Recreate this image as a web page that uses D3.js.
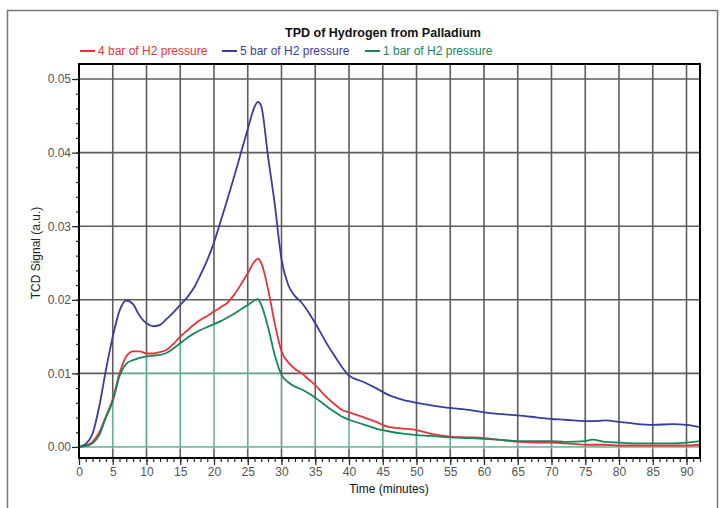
<!DOCTYPE html>
<html>
<head>
<meta charset="utf-8">
<script src="https://cdn.jsdelivr.net/npm/d3@7"></script>
<style>
  body { margin: 0; background: #fff; }
  svg text { font-family: "Liberation Sans", Arial, sans-serif; }
</style>
</head>
<body>
<div id="chart"></div>
<script>
// Time axis shared by all three runs (minutes)
const minutes = [0, 1, 2, 3, 4, 5, 6, 7, 8, 9, 10, 11, 12, 13, 14, 15, 16, 17, 18, 19,
    20, 21, 22, 23, 24, 25, 26, 26.5, 27, 28, 29, 30, 31, 32, 33, 34, 35, 36, 37, 38, 39,
    40, 42, 44, 46, 48, 50, 52, 55, 58, 60, 62, 65, 68, 70, 72, 75, 76, 78, 80, 82, 85, 88, 90, 92];

// TCD signal (a.u.)
const bar4 = [0, 0.0002, 0.0007, 0.0020, 0.0042, 0.0065, 0.0100, 0.0123, 0.0130, 0.0130,
    0.0127, 0.0127, 0.0129, 0.0132, 0.0140, 0.0150, 0.0158, 0.0166, 0.0173, 0.0178,
    0.0184, 0.0190, 0.0196, 0.0207, 0.0221, 0.0236, 0.0252, 0.0256, 0.0250, 0.0215, 0.0168,
    0.0130, 0.0115, 0.0106, 0.0100, 0.0092, 0.0084, 0.0074, 0.0065, 0.0057, 0.0050,
    0.0047, 0.0041, 0.0034, 0.0027, 0.0025, 0.0023, 0.0018, 0.0014, 0.0013, 0.0012, 0.0010,
    0.0007, 0.0006, 0.0006, 0.0005, 0.0003, 0.0003, 0.0003, 0.0002, 0.0002, 0.0002, 0.0002, 0.0002, 0.0003];

const bar5 = [0, 0.0004, 0.0018, 0.0055, 0.0105, 0.0150, 0.0185, 0.0199, 0.0194, 0.0178,
    0.0168, 0.0164, 0.0166, 0.0174, 0.0183, 0.0193, 0.0203, 0.0216, 0.0234, 0.0254,
    0.0278, 0.0307, 0.0337, 0.0368, 0.0400, 0.0432, 0.0462, 0.0469, 0.0463, 0.0395, 0.0330,
    0.0255, 0.0220, 0.0205, 0.0196, 0.0183, 0.0168, 0.0152, 0.0136, 0.0122, 0.0108,
    0.0097, 0.0089, 0.0080, 0.0070, 0.0064, 0.0060, 0.0057, 0.0053, 0.0050, 0.0047, 0.0045,
    0.0043, 0.0040, 0.0038, 0.0037, 0.0035, 0.0035, 0.0036, 0.0034, 0.0032, 0.0030, 0.0031, 0.0030, 0.0027];

const bar1 = [0, 0.0001, 0.0005, 0.0016, 0.0040, 0.0062, 0.0096, 0.0113, 0.0118, 0.0121,
    0.0123, 0.0124, 0.0125, 0.0128, 0.0134, 0.0141, 0.0148, 0.0154, 0.0159, 0.0163,
    0.0167, 0.0171, 0.0176, 0.0181, 0.0187, 0.0193, 0.0199, 0.0201, 0.0193, 0.0163, 0.0125,
    0.0098, 0.0088, 0.0082, 0.0078, 0.0073, 0.0067, 0.0060, 0.0053, 0.0047, 0.0041,
    0.0037, 0.0031, 0.0025, 0.0021, 0.0018, 0.0016, 0.0015, 0.0013, 0.0012, 0.0011, 0.0010,
    0.0008, 0.0008, 0.0008, 0.0007, 0.0008, 0.0010, 0.0007, 0.0006, 0.0005, 0.0005, 0.0005, 0.0006, 0.0008];

const seriesNames = ['4 bar of H2 pressure', '5 bar of H2 pressure', '1 bar of H2 pressure'];
const seriesColors = ['#e8333a', '#3a3c9e', '#17875a'];
const seriesValues = [bar4, bar5, bar1];

const xTicks = d3.range(0, 91, 5);
const yTicks = [0, 0.01, 0.02, 0.03, 0.04, 0.05];

const width = 721;
const height = 508;
const plot = { left: 79, right: 700, top: 64, bottom: 458 };

const svg = d3.select('#chart')
    .append('svg')
    .attr('width', width)
    .attr('height', height);

// outer chart frame
svg.append('rect')
    .attr('x', 7.5)
    .attr('y', 10.5)
    .attr('width', 710)
    .attr('height', 520)
    .attr('fill', 'none')
    .attr('stroke', '#777')
    .attr('stroke-width', 1.5);

const x = d3.scaleLinear().domain([0, 92]).range([plot.left, plot.right]);
const y = d3.scaleLinear().domain([-0.0015, 0.05204]).range([plot.bottom, plot.top]);

// title
svg.append('text')
    .attr('x', 383)
    .attr('y', 37)
    .attr('text-anchor', 'middle')
    .attr('font-size', '12.5px')
    .attr('font-weight', 'bold')
    .attr('fill', '#111')
    .text('TPD of Hydrogen from Palladium');

// legend
const legendX = [80, 222, 365];
seriesNames.forEach((name, i) => {
    const g = svg.append('g').attr('transform', `translate(${legendX[i]},51)`);
    g.append('line')
        .attr('x1', 0).attr('x2', 15)
        .attr('stroke', seriesColors[i])
        .attr('stroke-width', 2);
    g.append('text')
        .attr('x', 18)
        .attr('dy', '0.35em')
        .attr('font-size', '12px')
        .attr('fill', seriesColors[i])
        .text(name);
});

// gridlines
function drawGrid(parent, color, strokeWidth) {
    const grid = parent.append('g')
        .attr('stroke', color)
        .attr('stroke-width', strokeWidth);
    grid.selectAll('.vgrid')
        .data(xTicks.filter(d => d > 0))
        .enter().append('line')
        .attr('x1', d => x(d)).attr('x2', d => x(d))
        .attr('y1', plot.top).attr('y2', plot.bottom);
    grid.selectAll('.hgrid')
        .data(yTicks)
        .enter().append('line')
        .attr('x1', plot.left).attr('x2', plot.right)
        .attr('y1', d => y(d)).attr('y2', d => y(d));
}

drawGrid(svg, '#5c5c5c', 1.6);

// the grid below the 1 bar curve shows through in green
const underArea = d3.area()
    .x((d, i) => x(minutes[i]))
    .y0(y(0) + 2)
    .y1(d => y(d))
    .curve(d3.curveMonotoneX);

svg.append('clipPath')
    .attr('id', 'under-green')
    .append('path')
    .attr('d', underArea(bar1));

const clipped = svg.append('g').attr('clip-path', 'url(#under-green)');
drawGrid(clipped, '#fff', 1.8);
drawGrid(clipped, '#58a98a', 1.3);

// series lines
const line = d3.line()
    .x((d, i) => x(minutes[i]))
    .y(d => y(d))
    .curve(d3.curveMonotoneX);

seriesValues.forEach((values, i) => {
    svg.append('path')
        .attr('d', line(values))
        .attr('fill', 'none')
        .attr('stroke', seriesColors[i])
        .attr('stroke-width', 1.8)
        .attr('stroke-linejoin', 'round');
});

// plot frame
svg.append('rect')
    .attr('x', plot.left)
    .attr('y', plot.top)
    .attr('width', plot.right - plot.left)
    .attr('height', plot.bottom - plot.top)
    .attr('fill', 'none')
    .attr('stroke', '#000')
    .attr('stroke-width', 2);

// x axis
const xAxis = svg.append('g')
    .attr('transform', `translate(0,${plot.bottom})`)
    .call(d3.axisBottom(x).tickValues(d3.range(0, 93, 1)).tickSize(4).tickFormat(''));
xAxis.append('g')
    .call(d3.axisBottom(x).tickValues(xTicks).tickSize(7).tickFormat(d3.format('d')));
xAxis.selectAll('.domain').remove();
xAxis.selectAll('line').attr('stroke', '#222').attr('stroke-width', 1.2);
xAxis.selectAll('text')
    .attr('font-size', '12px')
    .attr('fill', '#555')
    .attr('y', 9);

// y axis
const yAxis = svg.append('g')
    .attr('transform', `translate(${plot.left},0)`)
    .call(d3.axisLeft(y).tickValues(d3.range(0, 0.0501, 0.002)).tickSize(3).tickFormat(''));
yAxis.append('g')
    .call(d3.axisLeft(y).tickValues(yTicks).tickSize(7).tickFormat(d3.format('.2f')));
yAxis.selectAll('.domain').remove();
yAxis.selectAll('line').attr('stroke', '#222').attr('stroke-width', 1.2);
yAxis.selectAll('text')
    .attr('font-size', '12px')
    .attr('fill', '#555')
    .attr('x', -8);

// axis titles
svg.append('text')
    .attr('x', 389)
    .attr('y', 493)
    .attr('text-anchor', 'middle')
    .attr('font-size', '12px')
    .attr('fill', '#111')
    .text('Time (minutes)');

svg.append('text')
    .attr('transform', 'translate(40,253) rotate(-90)')
    .attr('text-anchor', 'middle')
    .attr('font-size', '12px')
    .attr('fill', '#222')
    .text('TCD Signal (a.u.)');
</script>
</body>
</html>
